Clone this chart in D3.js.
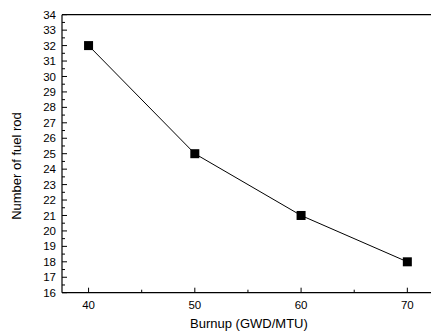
<!DOCTYPE html>
<html lang="en">
<head>
    <meta charset="UTF-8">
    <title>Fuel Rods vs Burnup</title>
    <script src="https://d3js.org/d3.v7.min.js"></script>
    <style>
        body {
            margin: 0;
            padding: 0;
            background: white;
        }
        svg {
            display: block;
            font-family: 'Liberation Sans', Arial, sans-serif;
        }
        .tick-label {
            font-size: 11.5px;
            fill: black;
        }
        .axis-title {
            font-size: 13px;
            fill: black;
            text-anchor: middle;
        }
    </style>
</head>
<body>
    <svg width="431" height="334"></svg>

    <script>
        // values
        const burnup = [40, 50, 60, 70];
        const rods = [32, 25, 21, 18];
        const xTicks = [40, 50, 60, 70];
        const xMinor = [45, 55, 65];
        const yTicks = d3.range(16, 35, 1);
        const yMinor = d3.range(16.5, 34, 1);

        const svg = d3.select("svg");

        const xScale = d3.scaleLinear()
                         .domain([37.5, 72.5])
                         .range([62, 433.9]);

        const yScale = d3.scaleLinear()
                         .domain([16, 34])
                         .range([292.7, 14.7]);

        // frame: top border, left axis, bottom axis
        svg.append("line")
            .attr("x1", xScale(37.5)).attr("x2", xScale(72.5))
            .attr("y1", yScale(34)).attr("y2", yScale(34))
            .attr("stroke", "black").attr("stroke-width", 1.2);

        svg.append("line")
            .attr("x1", xScale(37.5)).attr("x2", xScale(37.5))
            .attr("y1", yScale(34)).attr("y2", yScale(16))
            .attr("stroke", "black").attr("stroke-width", 1.2);

        svg.append("line")
            .attr("x1", xScale(37.5)).attr("x2", xScale(72.5))
            .attr("y1", yScale(16)).attr("y2", yScale(16))
            .attr("stroke", "black").attr("stroke-width", 1.2);

        // y ticks (pointing inward)
        svg.selectAll(".ymajor")
            .data(yTicks)
            .enter()
            .append("line")
            .attr("x1", xScale(37.5))
            .attr("x2", xScale(37.5) + 5)
            .attr("y1", d => yScale(d))
            .attr("y2", d => yScale(d))
            .attr("stroke", "black");

        svg.selectAll(".yminor")
            .data(yMinor)
            .enter()
            .append("line")
            .attr("x1", xScale(37.5))
            .attr("x2", xScale(37.5) + 3)
            .attr("y1", d => yScale(d))
            .attr("y2", d => yScale(d))
            .attr("stroke", "black");

        svg.selectAll(".ylabel")
            .data(yTicks)
            .enter()
            .append("text")
            .attr("class", "tick-label")
            .attr("x", xScale(37.5) - 6)
            .attr("y", d => yScale(d))
            .attr("dy", "0.35em")
            .attr("text-anchor", "end")
            .text(d => d);

        // x ticks
        svg.selectAll(".xmajor")
            .data(xTicks)
            .enter()
            .append("line")
            .attr("x1", d => xScale(d))
            .attr("x2", d => xScale(d))
            .attr("y1", yScale(16))
            .attr("y2", yScale(16) - 5)
            .attr("stroke", "black");

        svg.selectAll(".xminor")
            .data(xMinor)
            .enter()
            .append("line")
            .attr("x1", d => xScale(d))
            .attr("x2", d => xScale(d))
            .attr("y1", yScale(16))
            .attr("y2", yScale(16) - 3)
            .attr("stroke", "black");

        svg.selectAll(".xlabel")
            .data(xTicks)
            .enter()
            .append("text")
            .attr("class", "tick-label")
            .attr("x", d => xScale(d))
            .attr("y", yScale(16) + 16)
            .attr("text-anchor", "middle")
            .text(d => d);

        // axis titles
        svg.append("text")
            .attr("class", "axis-title")
            .attr("x", xScale(55) + 1)
            .attr("y", 328)
            .text("Burnup (GWD/MTU)");

        svg.append("text")
            .attr("class", "axis-title")
            .attr("font-size", "12.5px")
            .attr("transform", "translate(21,166) rotate(-90)")
            .text("Number of fuel rod");

        // series
        const points = burnup.map((b, i) => ({ x: b, y: rods[i] }));

        svg.append("path")
            .datum(points)
            .attr("fill", "none")
            .attr("stroke", "black")
            .attr("stroke-width", 1)
            .attr("d", d3.line().x(d => xScale(d.x)).y(d => yScale(d.y)));

        svg.selectAll(".marker")
            .data(points)
            .enter()
            .append("rect")
            .attr("x", d => xScale(d.x) - 4.5)
            .attr("y", d => yScale(d.y) - 4.5)
            .attr("width", 9)
            .attr("height", 9)
            .attr("fill", "black");
    </script>
</body>
</html>
